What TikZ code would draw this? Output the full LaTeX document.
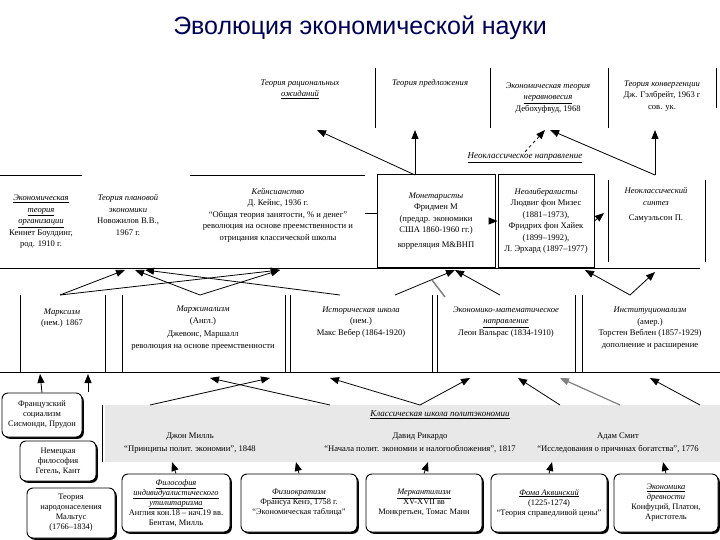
\documentclass[tikz,border=0pt]{standalone}
\usepackage{fontspec}
\setmainfont{Liberation Serif}
\newfontfamily\ttl{Liberation Sans}
\usetikzlibrary{arrows.meta,shadows}
\begin{document}
\begin{tikzpicture}[x=1pt,y=-1pt,
  txt/.style={align=center,font=\fontsize{8.6}{11.5}\selectfont,inner sep=1pt},
  ln/.style={line width=0.8pt},
  ar/.style={line width=0.8pt,-{Triangle[length=9pt,width=7pt]}},
  rb/.style={draw,rounded corners=6pt,line width=0.9pt,fill=white,align=center,
     font=\fontsize{8.4}{10}\selectfont,drop shadow={shadow xshift=1.8pt,shadow yshift=-1.8pt,fill=black,opacity=1}},
  bx/.style={draw,line width=0.8pt,align=center,font=\fontsize{8.6}{11.5}\selectfont}]
\useasboundingbox (0,0) rectangle (720,540);
\node[font=\ttl\fontsize{25}{28}\selectfont,text=blue!35!black] (title) at (360,28) {Эволюция экономической науки};
% top row
\draw[ln] (375,68)--(375,128) (490,68)--(490,128) (608,68)--(608,128) (716,68)--(716,108);
\node[txt] (rat) at (300,89) {\textit{Теория рациональных}\\\underline{\textit{ожиданий}}};
\node[txt] (sup) at (430,83) {\textit{Теория предложения}};
\node[txt] (ner) at (548,98) {\textit{Экономическая теория}\\\underline{\textit{неравновесия}}\\Дебохуфвуд, 1968};
\node[txt] (conv) at (662,96) {\textit{Теория конвергенции}\\Дж. Гэлбрейт, 1963 г\\сов. ук.};
\coordinate (p1) at (415,175); \coordinate (p2) at (655,175);
\coordinate (t1) at (317,130); \coordinate (t2) at (415,130); \coordinate (t3) at (545,130); \coordinate (t4) at (550,130); \coordinate (t5) at (655,130);
\draw[ar] (p1)--(t1); \draw[ar] (p1)--(t2); \draw[ar] (p2)--(t4); \draw[ar] (p2)--(t5);
\node[txt,font=\fontsize{9}{10}\selectfont] (neo) at (525,158) {\underline{\textit{Неоклассическое направление}}};
\draw[ar,dashed] (neo.north)--(t3);
% middle row
\draw[ln] (0,175)--(82,175) (0,268)--(700,268) (190,175)--(365,175);
\node[txt] (org) at (41,222) {\underline{\textit{Экономическая}}\\\underline{\textit{теория}}\\\underline{\textit{организации}}\\Кеннет Боулдинг,\\род. 1910 г.};
\node[txt] (plan) at (128,215) {\textit{Теория плановой}\\\textit{экономики}\\Новожилов В.В.,\\1967 г.};
\node[txt] (keyn) at (278,215) {\textit{Кейнсианство}\\Д. Кейнс, 1936 г.\\“Общая теория занятости, \% и денег”\\революция на основе преемственности и\\отрицания классической школы};
\node[bx,minimum width=118pt,minimum height=93pt] (mon) at (436,221) {\textit{Монетаристы}\\Фридмен М\\(преддр. экономики\\США 1860-1960 гг.)\\[3pt]корреляция М\&ВНП};
\node[bx,minimum width=96pt,minimum height=93pt,inner sep=1pt] (lib) at (546,221) {\textit{Неолибералисты}\\Людвиг фон Мизес\\(1881–1973),\\Фридрих фон Хайек\\(1899–1992),\\Л. Эрхард (1897–1977)};
\draw[ln] (608,180)--(608,262) (705,180)--(705,262);
\node[txt] (syn) at (656,205) {\textit{Неоклассический}\\\textit{синтез}\\[4pt]Самуэльсон П.};
\draw[ln] (365,213)--(377,213);
\draw[ar] (mon.east)--(lib.west); \draw[ar] (lib.east)--(604,213);
% third row
\draw[ln] (20,295)--(20,372) (105,295)--(105,372) (122,295)--(122,372) (285,295)--(285,372) (290,295)--(290,372) (432,295)--(432,372) (437,295)--(437,372) (575,295)--(575,372) (582,295)--(582,372) (0,372)--(720,372);
\node[txt] (marx) at (62,318) {\textit{Марксизм}\\(нем.) 1867};
\node[txt] (marg) at (203,328) {\textit{Маржинализм}\\(Англ.)\\[2pt]Джевонс, Маршалл\\революция на основе преемственности};
\node[txt] (hist) at (361,322) {\textit{Историческая школа}\\(нем.)\\Макс Вебер (1864-1920)};
\node[txt] (math) at (506,322) {\textit{Экономико-математическое}\\\underline{\textit{направление}}\\Леон Вальрас (1834-1910)};
\node[txt] (inst) at (650,328) {\textit{Институционализм}\\(амер.)\\Торстен Веблен (1857-1929)\\дополнение и расширение};
% cross arrows row3 -> row2
\coordinate (r1) at (125,270); \coordinate (r2) at (135,270); \coordinate (r3) at (145,270);
\coordinate (r4) at (280,270); \coordinate (r5) at (455,270); \coordinate (r6) at (585,270); \coordinate (r7) at (655,272);
\coordinate (a1) at (60,295); \coordinate (a2) at (200,295); \coordinate (a3) at (340,295);
\coordinate (a4) at (500,295); \coordinate (a5) at (630,295); \coordinate (a6) at (395,295);
\draw[ar] (a1)--(r1); \draw[ar] (a2)--(r2); \draw[ar] (a3)--(r3);
\draw[ar] (a2)--(r4); \draw[ar] (a4)--(r5); \draw[ar] (a6)--(r5);
\draw[ar] (a5)--(r6); \draw[ar] (a5)--(r7); \draw[ar] (a1)--(r4);
\draw[line width=1.5pt,gray] (432,280)--(445,297);
% band
\node[fill=gray!18,minimum width=615pt,minimum height=57pt,inner sep=0] (band) at (412.5,433.5) {};
\draw[ln] (102,405)--(102,462);
\node[txt,font=\fontsize{9}{10}\selectfont] (cls) at (440,415) {\underline{\textit{Классическая школа политэкономии}}};
\node[txt] (mill) at (190,443) {Джон Милль\\[1pt]“Принципы полит. экономии”, 1848};
\node[txt] (ric) at (420,443) {Давид Рикардо\\[1pt]“Начала полит. экономии и налогообложения”, 1817};
\node[txt] (smith) at (618,443) {Адам Смит\\[1pt]“Исследования о причинах богатства”, 1776};
\draw[ar] (150,405) -- (270,378);
\draw[ar] (330,405)--(210,378); \draw[ar] (420,405)--(330,378);
\draw[ar] (420,405)--(470,378); \draw[ar] (560,405)--(518,378);
\draw[ar] (700,405)--(650,378);
\draw[ar,gray,line width=1.2pt] (620,405)--(560,378);
% left boxes
\node[rb,minimum width=80pt,minimum height=44pt,inner sep=1pt] (fr) at (42,415) {Французский\\социализм\\Сисмонди, Прудон};
\node[rb,minimum width=76pt,minimum height=40pt] (ger) at (58,461) {Немецкая\\философия\\Гегель, Кант};
\node[rb,minimum width=88pt,minimum height=50pt] (mal) at (71,513) {Теория\\народонаселения\\Мальтус\\(1766–1834)};
\draw[ar] (fr.north)--(40,374); \draw[ar] (88,392)--(88,374);
% bottom boxes
\node[rb,minimum width=108pt,minimum height=58pt,inner sep=1pt] (util) at (176,503) {\underline{\textit{Философия}}\\\underline{\textit{индивидуалистического}}\\\underline{\textit{утилитаризма}}\\Англия кон.18 – нач.19 вв.\\Бентам, Милль};
\node[rb,minimum width=116pt,minimum height=58pt] (phys) at (299,503) {\underline{\textit{Физиократизм}}\\Франсуа Кенэ, 1758 г.\\“Экономическая таблица”};
\node[rb,minimum width=116pt,minimum height=58pt] (merc) at (424,503) {\underline{\textit{Меркантилизм}}\\XV-XVII вв\\Монкретьен, Томас Манн};
\node[rb,minimum width=116pt,minimum height=58pt] (foma) at (549,503) {\underline{\textit{Фома Аквинский}}\\(1225-1274)\\“Теория справедливой цены”};
\node[rb,minimum width=104pt,minimum height=58pt] (anc) at (666,503) {\underline{\textit{Экономика}}\\\textit{древности}\\Конфуций, Платон,\\Аристотель};
\draw[ar] (util.north)--(172,462); \draw[ar] (phys.north)--(296,462);
\draw[ar] (merc.north)--(428,462); \draw[ar] (foma.north)--(552,462);
\draw[ar] (anc.north)--(663,462);
\end{tikzpicture}
\end{document}
